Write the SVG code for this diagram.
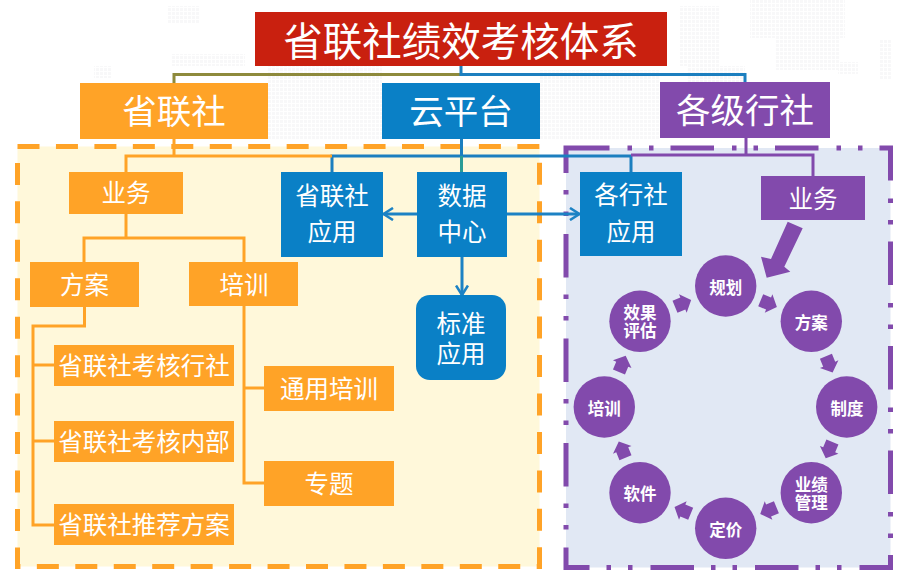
<svg xmlns="http://www.w3.org/2000/svg" width="912" height="578" viewBox="0 0 912 578">
<style>
text{font-family:"Noto Sans CJK SC","Noto Sans",sans-serif;fill:#fff;text-anchor:middle}
.t24{font-size:24.500px}.t34{font-size:34.500px}
.t16{font-size:16.500px;font-weight:700}
.o{fill:#FFA327}.b{fill:#0A80C6}.p{fill:#824AAC}
.lo,.lb,.lp,.la{fill:none;stroke-width:3}
.lo{stroke:#FFA327}.lb{stroke:#1C7FBF}.lp{stroke:#824AAC}.la{stroke:#1C82C4}
</style>
<defs>
<pattern id="dots" width="4" height="4" patternUnits="userSpaceOnUse"><rect width="3" height="3" fill="#F8F8F9"/></pattern>
<path id="ca" d="M-8.500,-6.500H0V-10L9,0L0,10V6.500H-8.500Z" fill="#824AAC"/>
<marker id="open" viewBox="0 0 12 14" refX="10.5" refY="7" markerWidth="12" markerHeight="14" markerUnits="userSpaceOnUse" orient="auto"><path d="M1,1L10.5,7L1,13" fill="none" stroke="#1C82C4" stroke-width="2.6"/></marker>
</defs>
<rect width="912" height="578" fill="#fff"/>
<g id="map" fill="url(#dots)">
<path d="M168,6H200V24H168ZM172,54H245V66H172ZM94,66H112V78H94ZM268,66H382V140H268ZM540,70H660V140H540ZM680,6H720V66H680ZM688,66H745V82H688ZM750,0H845V38H750ZM775,38H840V70H775ZM838,62H858V74H838ZM880,40H892V80H880Z"/>
</g>
<rect id="zone-left" x="17.500" y="146.500" width="522" height="420" fill="#FFF8DA" stroke="#FFA327" stroke-width="5" stroke-dasharray="22 16.450"/>
<rect id="zone-right" x="566" y="148" width="324.500" height="419.500" fill="#E1E8F4" stroke="#824AAC" stroke-width="5" stroke-dasharray="43.500 18 4.500 17 4.500 17"/>
<g id="connectors">
<path d="M174,83V74.500H461" fill="none" stroke="#8E8A3C" stroke-width="3"/>
<path d="M745,82V74.500H461V66" class="lb"/>
<path class="lb" d="M461.500,139V156M332,172V156H631V172"/>
<path d="M461.500,156V172" fill="none" stroke="#2A9C96" stroke-width="3"/>
<path class="lo" d="M174,139V156M126,172V156H332M126,214V238M84,262V238H244V262M84.500,307V326H33V525H54M33,365H54M33,441H54M244,306V483H264M244,388H264"/>
<path class="lp" d="M746,138V155M631,155H813V176"/>
<path class="la" d="M417,214H383.500" marker-end="url(#open)"/>
<path class="la" d="M507,214H579.500" marker-end="url(#open)"/>
<path class="la" d="M462,257V295" marker-end="url(#open)"/>
<path d="M787.700,221.700L802.700,228.300L784.300,266.700L790.300,271.700L766.700,277.700L761,256.700L771,259Z" class="p"/>
<g id="cycle-arrows">
<use href="#ca" transform="rotate(22.500 725.700 407) translate(725.700 295)"/>
<use href="#ca" transform="rotate(67.500 725.700 407) translate(725.700 295)"/>
<use href="#ca" transform="rotate(112.500 725.700 407) translate(725.700 295)"/>
<use href="#ca" transform="rotate(157.500 725.700 407) translate(725.700 295)"/>
<use href="#ca" transform="rotate(202.500 725.700 407) translate(725.700 295)"/>
<use href="#ca" transform="rotate(247.500 725.700 407) translate(725.700 295)"/>
<use href="#ca" transform="rotate(292.500 725.700 407) translate(725.700 295)"/>
<use href="#ca" transform="rotate(337.500 725.700 407) translate(725.700 295)"/>
</g>
</g>
<g id="title"><rect x="255" y="12" width="412" height="54" fill="#C9200F"/><text x="461" y="56" font-size="39.500">省联社绩效考核体系</text></g>
<g id="n-shenglianshe"><rect class="o" x="80" y="83" width="188" height="56"/><text class="t34" x="174" y="124">省联社</text></g>
<g id="n-yunpingtai"><rect class="b" x="382" y="83" width="158" height="56"/><text class="t34" x="461" y="124">云平台</text></g>
<g id="n-gejihangshe"><rect class="p" x="660" y="82" width="170" height="56"/><text class="t34" x="745" y="123">各级行社</text></g>
<g id="n-yewu-l"><rect class="o" x="69" y="172" width="114" height="42"/><text class="t24" x="126" y="202">业务</text></g>
<g id="n-fangan"><rect class="o" x="30" y="262" width="109" height="45"/><text class="t24" x="84.500" y="294">方案</text></g>
<g id="n-peixun"><rect class="o" x="189" y="262" width="109" height="44"/><text class="t24" x="244" y="294">培训</text></g>
<g id="n-kh1"><rect class="o" x="54" y="345" width="180" height="41"/><text class="t24" x="144" y="375">省联社考核行社</text></g>
<g id="n-kh2"><rect class="o" x="54" y="421" width="180" height="41"/><text class="t24" x="144" y="451">省联社考核内部</text></g>
<g id="n-kh3"><rect class="o" x="54" y="504" width="180" height="41"/><text class="t24" x="144" y="534">省联社推荐方案</text></g>
<g id="n-typx"><rect class="o" x="264" y="366" width="130" height="45"/><text class="t24" x="329" y="398">通用培训</text></g>
<g id="n-zt"><rect class="o" x="264" y="461" width="130" height="45"/><text class="t24" x="329" y="493">专题</text></g>
<g id="n-sl-app"><rect class="b" x="281" y="172" width="102" height="85"/><text class="t24" x="332" y="205">省联社<tspan x="332" dy="36">应用</tspan></text></g>
<g id="n-data"><rect class="b" x="417" y="172" width="90" height="85"/><text class="t24" x="462" y="205">数据<tspan x="462" dy="36">中心</tspan></text></g>
<g id="n-gh-app"><rect class="b" x="580" y="172" width="102" height="84"/><text class="t24" x="631" y="204">各行社<tspan x="631" dy="37">应用</tspan></text></g>
<g id="n-std"><rect class="b" x="416" y="295" width="90" height="85" rx="14"/><text class="t24" x="461" y="333">标准<tspan x="461" dy="30">应用</tspan></text></g>
<g id="n-yewu-r"><rect class="p" x="761" y="176" width="104" height="44"/><text class="t24" x="813" y="208">业务</text></g>
<g id="c1"><circle class="p" cx="725.700" cy="286" r="30.700"/><text class="t16" x="725.700" y="294">规划</text></g>
<g id="c2"><circle class="p" cx="811.300" cy="321.300" r="30.700"/><text class="t16" x="811.300" y="329">方案</text></g>
<g id="c3"><circle class="p" cx="846.700" cy="407" r="30.700"/><text class="t16" x="847" y="415">制度</text></g>
<g id="c4"><circle class="p" cx="811.300" cy="492.700" r="30.700"/><text class="t16" x="811.300" y="491">业绩<tspan x="811.300" dy="18">管理</tspan></text></g>
<g id="c5"><circle class="p" cx="725.700" cy="528.300" r="30.700"/><text class="t16" x="725.700" y="536">定价</text></g>
<g id="c6"><circle class="p" cx="640" cy="492.700" r="30.700"/><text class="t16" x="640" y="500">软件</text></g>
<g id="c7"><circle class="p" cx="604.300" cy="407" r="30.700"/><text class="t16" x="604.300" y="415">培训</text></g>
<g id="c8"><circle class="p" cx="640" cy="321.300" r="30.700"/><text class="t16" x="640" y="319">效果<tspan x="640" dy="18">评估</tspan></text></g>
</svg>
